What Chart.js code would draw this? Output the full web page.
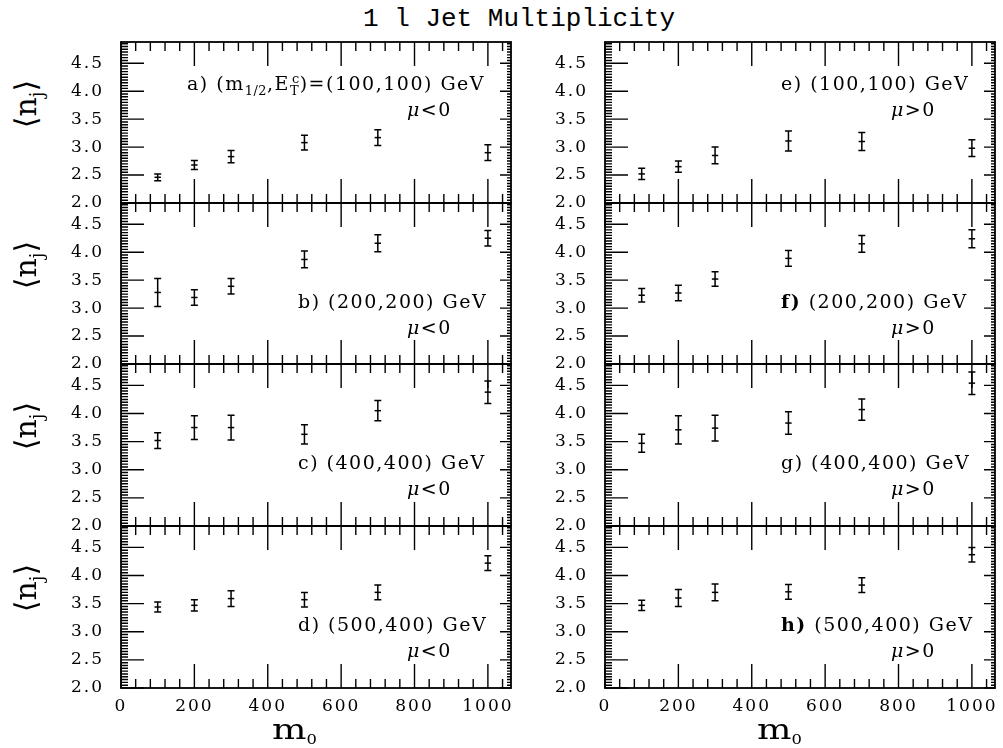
<!DOCTYPE html>
<html>
<head>
<meta charset="utf-8">
<script src="https://cdn.jsdelivr.net/npm/chart.js@4.4.1/dist/chart.umd.min.js"></script>
<style>
  html, body { margin: 0; padding: 0; background: #fff; }
  body { width: 1003px; height: 748px; position: relative; overflow: hidden; color: #000; font-family: "DejaVu Serif", serif; }
  canvas { position: absolute; }
  .txt { position: absolute; white-space: nowrap; line-height: 1; }
  .ann { font-size: 19px; letter-spacing: 1.5px; }
  .ann sub, .ann sup { font-size: 0.68em; line-height: 0; letter-spacing: 0.5px; }
  .title { font-family: "Liberation Mono", monospace; font-size: 26px; transform: translateX(-50%); }
  .yt { font-size: 30px; transform: translate(-50%, -50%) rotate(-90deg); }
  .yt sub { font-size: 0.6em; line-height: 0; }
  .xt { font-size: 28px; transform-origin: 0 0; transform: scaleX(1.3); }
  .xt sub { font-size: 0.45em; line-height: 0; vertical-align: -5px; }
</style>
</head>
<body>
<div class="txt title" style="left:519px; top:6px;">1 l Jet Multiplicity</div>
<script>
// ---------------- data ----------------
const m0 = [100, 200, 300, 500, 700, 1000];

const njA  = [2.46, 2.68, 2.83, 3.08, 3.17, 2.90];
const errA = [0.06, 0.08, 0.11, 0.13, 0.14, 0.14];
const njB  = [3.28, 3.19, 3.39, 3.87, 4.16, 4.25];
const errB = [0.25, 0.14, 0.14, 0.15, 0.15, 0.14];
const njC  = [3.52, 3.75, 3.75, 3.63, 4.05, 4.38];
const errC = [0.14, 0.21, 0.22, 0.17, 0.18, 0.20];
const njD  = [3.44, 3.47, 3.59, 3.57, 3.70, 4.22];
const errD = [0.09, 0.10, 0.14, 0.13, 0.13, 0.13];
const njE  = [2.52, 2.65, 2.85, 3.11, 3.10, 2.98];
const errE = [0.10, 0.10, 0.15, 0.18, 0.16, 0.15];
const njF  = [3.23, 3.27, 3.52, 3.89, 4.15, 4.24];
const errF = [0.12, 0.14, 0.13, 0.14, 0.15, 0.16];
const njG  = [3.47, 3.71, 3.74, 3.83, 4.07, 4.54];
const errG = [0.16, 0.25, 0.23, 0.20, 0.19, 0.20];
const njH  = [3.47, 3.60, 3.70, 3.71, 3.83, 4.37];
const errH = [0.09, 0.15, 0.15, 0.13, 0.13, 0.13];

const xTickLabels = [0, 200, 400, 600, 800, 1000];
const yTickLabels = [2.0, 2.5, 3.0, 3.5, 4.0, 4.5];
const xMinorStep = 40;
const yMinorStep = 0.05;
const X_MIN = 0, X_MAX = 1063, Y_MIN = 2.0, Y_MAX = 4.88;

const panelLabels = [
  'a) (m<sub>1/2</sub>,E<sub>T</sub><sup style="margin-left:-0.55em">c</sup>)=(100,100) GeV',
  'b) (200,200) GeV', 'c) (400,400) GeV', 'd) (500,400) GeV',
  'e) (100,100) GeV', '<b>f)</b> (200,200) GeV', 'g) (400,400) GeV', '<b>h)</b> (500,400) GeV'
];
const muLabels = ['<i>\u03BC</i>&lt;0', '<i>\u03BC</i>&gt;0'];

// ---------------- layout ----------------
const cols = [{ left: 121, w: 390 }, { left: 605, w: 390 }];
const rows = [{ top: 42, h: 161 }, { top: 203, h: 161 }, { top: 364, h: 162 }, { top: 526, h: 162 }];
const panelData = [
  [[njA, errA], [njB, errB], [njC, errC], [njD, errD]],
  [[njE, errE], [njF, errF], [njG, errG], [njH, errH]]
];

const xMinorTicks = [], yMinorTicks = [];
for (let v = X_MIN + xMinorStep; v < X_MAX; v += xMinorStep) if (!xTickLabels.includes(v)) xMinorTicks.push(v);
for (let k = 1; Y_MIN + k * yMinorStep < Y_MAX; k++) {
  const v = +(Y_MIN + k * yMinorStep).toFixed(2);
  if (!yTickLabels.some(t => Math.abs(t - v) < 1e-6)) yMinorTicks.push(v);
}

Chart.defaults.font.family = '"DejaVu Serif", serif';
Chart.defaults.color = '#000';

const spacingPlugin = {
  id: 'spacing',
  beforeDraw(chart) { try { chart.ctx.letterSpacing = '2px'; } catch (e) {} }
};

const frameTicks = {
  id: 'frameTicks',
  afterDraw(chart) {
    const { ctx, chartArea: a, scales: { x, y } } = chart;
    ctx.save();
    ctx.strokeStyle = '#000';
    ctx.lineWidth = 1.4;
    ctx.beginPath();
    const seg = (x1, y1, x2, y2) => { ctx.moveTo(x1, y1); ctx.lineTo(x2, y2); };
    xTickLabels.forEach(v => { const p = x.getPixelForValue(v); seg(p, a.bottom, p, a.bottom - 24); seg(p, a.top, p, a.top + 24); });
    xMinorTicks.forEach(v => { const p = x.getPixelForValue(v); seg(p, a.bottom, p, a.bottom - 9); seg(p, a.top, p, a.top + 9); });
    yTickLabels.forEach(v => { const p = y.getPixelForValue(v); seg(a.left, p, a.left + 23, p); seg(a.right, p, a.right - 11, p); });
    yMinorTicks.forEach(v => { const p = y.getPixelForValue(v); seg(a.left, p, a.left + 7, p); seg(a.right, p, a.right - 4, p); });
    ctx.stroke();
    ctx.lineWidth = 1.8;
    ctx.strokeRect(a.left, a.top, a.right - a.left, a.bottom - a.top);
    ctx.restore();
  }
};

const errorBars = {
  id: 'errorBars',
  afterDatasetsDraw(chart) {
    const { ctx, scales: { x, y } } = chart;
    ctx.save();
    ctx.strokeStyle = '#000';
    ctx.lineWidth = 1.5;
    ctx.beginPath();
    chart.data.datasets.forEach(ds => ds.data.forEach(pt => {
      const px = x.getPixelForValue(pt.x);
      const lo = y.getPixelForValue(pt.y - pt.e);
      const hi = y.getPixelForValue(pt.y + pt.e);
      ctx.moveTo(px, lo); ctx.lineTo(px, hi);
      ctx.moveTo(px - 3.5, lo); ctx.lineTo(px + 3.5, lo);
      ctx.moveTo(px - 3.5, hi); ctx.lineTo(px + 3.5, hi);
    }));
    ctx.stroke();
    ctx.restore();
  }
};

const Y_AXIS_W = 70, PAD_T = 10, PAD_R = 12;

function addText(cls, html, left, top) {
  const d = document.createElement('div');
  d.className = 'txt ' + cls;
  d.innerHTML = html;
  d.style.left = left + 'px';
  d.style.top = top + 'px';
  document.body.appendChild(d);
  return d;
}

cols.forEach((col, c) => {
  rows.forEach((row, r) => {
    const bottomRow = r === rows.length - 1;
    const xAxisH = bottomRow ? 45 : 0;
    const padB = bottomRow ? 0 : 14;
    const cv = document.createElement('canvas');
    cv.width = Y_AXIS_W + col.w + PAD_R;
    cv.height = PAD_T + row.h + xAxisH + padB;
    cv.style.left = (col.left - Y_AXIS_W) + 'px';
    cv.style.top = (row.top - PAD_T) + 'px';
    cv.style.width = cv.width + 'px';
    cv.style.height = cv.height + 'px';
    document.body.appendChild(cv);

    const [vals, errs] = panelData[c][r];
    new Chart(cv, {
      type: 'scatter',
      data: {
        datasets: [{
          data: m0.map((m, i) => ({ x: m, y: vals[i], e: errs[i] })),
          pointStyle: 'line',
          pointRadius: 3.2,
          pointHoverRadius: 3.2,
          pointBorderWidth: 1.5,
          borderColor: '#000',
          backgroundColor: '#000',
          showLine: false
        }]
      },
      options: {
        responsive: false,
        animation: false,
        events: [],
        layout: { padding: { left: 0, top: PAD_T, right: PAD_R, bottom: padB } },
        plugins: { legend: { display: false }, tooltip: { enabled: false }, title: { display: false } },
        scales: {
          x: {
            type: 'linear', min: X_MIN, max: X_MAX,
            afterBuildTicks: s => { s.ticks = xTickLabels.map(v => ({ value: v })); },
            grid: { display: false, drawTicks: false },
            border: { display: false },
            ticks: { display: bottomRow, padding: 8, autoSkip: false, maxRotation: 0,
                     font: { family: '"DejaVu Serif", serif', size: 17 }, color: '#000',
                     callback: v => String(v) },
            afterFit: s => { s.height = xAxisH; s.paddingLeft = 0; s.paddingRight = 0; s.paddingTop = 0; s.paddingBottom = 0; }
          },
          y: {
            type: 'linear', min: Y_MIN, max: Y_MAX,
            afterBuildTicks: s => { s.ticks = yTickLabels.map(v => ({ value: v })); },
            grid: { display: false, drawTicks: false },
            border: { display: false },
            ticks: { padding: 17, autoSkip: false,
                     font: { family: '"DejaVu Serif", serif', size: 17 }, color: '#000',
                     callback: v => Number(v).toFixed(1) },
            afterFit: s => { s.width = Y_AXIS_W; s.paddingLeft = 0; s.paddingRight = 0; s.paddingTop = 0; s.paddingBottom = 0; }
          }
        }
      },
      plugins: [spacingPlugin, errorBars, frameTicks]
    });

    // panel annotations (baseline offsets relative to panel top)
    const idx = c * 4 + r;
    const lineBase = r === 0 ? 48 : 105;
    const muBase = r === 0 ? 74 : 130.5;
    let annLeft;
    if (c === 0) annLeft = r === 0 ? 187 : 298;
    else annLeft = 781;
    addText('ann', panelLabels[idx], annLeft, row.top + lineBase - 16);
    addText('ann', muLabels[c], c === 0 ? 407 : 891, row.top + muBase - 16);

    if (c === 0) {
      addText('yt', '\u27E8n<sub>j</sub>\u27E9', 26, row.top + 62);
    }
  });
});

// x-axis titles
addText('xt', 'm<sub>0</sub>', 272, 716);
addText('xt', 'm<sub>0</sub>', 757, 716);
</script>
</body>
</html>
